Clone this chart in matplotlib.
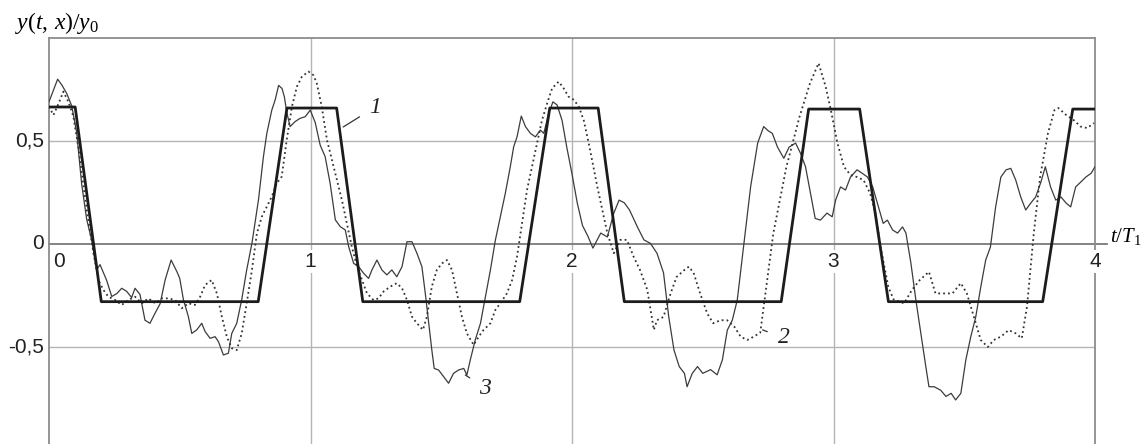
import matplotlib
matplotlib.use("Agg")
import matplotlib.pyplot as plt

# curve 1: thick trapezoid wave
t1 = [0, 0.10, 0.20, 0.80, 0.91, 1.10, 1.20, 1.80, 1.915, 2.10, 2.20, 2.80, 2.905,
      3.10, 3.21, 3.80, 3.915, 4.0]
y1 = [0.665, 0.665, -0.28, -0.28, 0.66, 0.66, -0.28, -0.28, 0.66, 0.66, -0.28, -0.28,
      0.655, 0.655, -0.28, -0.28, 0.655, 0.655]

# curve 2: dotted
t2 = [0, 0.017, 0.036, 0.055, 0.074, 0.093, 0.112, 0.131, 0.15, 0.17, 0.189, 0.208, 0.227,
      0.253, 0.278, 0.304, 0.329, 0.355, 0.38, 0.406, 0.431, 0.457, 0.482, 0.508, 0.533,
      0.558, 0.578, 0.597, 0.622, 0.642, 0.661, 0.68, 0.699, 0.718, 0.737, 0.756, 0.776,
      0.795, 0.814, 0.833, 0.852, 0.871, 0.89, 0.909, 0.929, 0.948, 0.967, 0.992, 1.011,
      1.024, 1.043, 1.063, 1.082, 1.101, 1.12, 1.139, 1.158, 1.178, 1.197, 1.216, 1.241,
      1.26, 1.28, 1.305, 1.33, 1.35, 1.369, 1.388, 1.407, 1.43, 1.445, 1.464, 1.483, 1.503,
      1.522, 1.541, 1.56, 1.579, 1.598, 1.624, 1.643, 1.662, 1.688, 1.707, 1.726, 1.751,
      1.771, 1.79, 1.809, 1.828, 1.847, 1.866, 1.885, 1.905, 1.924, 1.949, 1.968, 1.987,
      2.007, 2.026, 2.045, 2.064, 2.097, 2.135, 2.16, 2.185, 2.21, 2.236, 2.26, 2.288,
      2.313, 2.325, 2.35, 2.377, 2.40, 2.43, 2.447, 2.465, 2.49, 2.517, 2.54, 2.568, 2.593,
      2.62, 2.645, 2.67, 2.695, 2.72, 2.77, 2.82, 2.87, 2.91, 2.943, 2.97, 2.99, 3.015,
      3.04, 3.065, 3.09, 3.115, 3.14, 3.16, 3.18, 3.21, 3.23, 3.27, 3.30, 3.33, 3.365,
      3.39, 3.42, 3.455, 3.487, 3.51, 3.537, 3.563, 3.59, 3.613, 3.64, 3.67, 3.697, 3.72,
      3.74, 3.766, 3.79, 3.82, 3.845, 3.86, 3.89, 3.92, 3.945, 3.97, 3.996]
y2 = [0.667, 0.626, 0.68, 0.74, 0.69, 0.62, 0.47, 0.29, 0.117, -0.045, -0.175, -0.223, -0.256,
      -0.272, -0.296, -0.272, -0.256, -0.288, -0.264, -0.288, -0.264, -0.264, -0.272, -0.312,
      -0.288, -0.296, -0.256, -0.199, -0.175, -0.24, -0.353, -0.45, -0.506, -0.515, -0.434,
      -0.288, -0.126, 0.052, 0.133, 0.181, 0.23, 0.295, 0.327, 0.505, 0.667, 0.764, 0.812,
      0.837, 0.82, 0.78, 0.667, 0.505, 0.408, 0.31, 0.214, 0.10, -0.013, -0.11, -0.175,
      -0.24, -0.272, -0.264, -0.23, -0.207, -0.19, -0.215, -0.272, -0.353, -0.385, -0.417,
      -0.353, -0.207, -0.126, -0.094, -0.078, -0.126, -0.24, -0.353, -0.434, -0.49, -0.45,
      -0.417, -0.385, -0.32, -0.288, -0.24, -0.175, -0.06, 0.10, 0.262, 0.375, 0.489, 0.60,
      0.683, 0.756, 0.788, 0.756, 0.715, 0.70, 0.667, 0.60, 0.489, 0.277, 0.053, -0.045,
      0.02, 0.02, -0.063, -0.126, -0.223, -0.417, -0.37, -0.354, -0.24, -0.16, -0.126, -0.11,
      -0.14, -0.24, -0.337, -0.385, -0.37, -0.37, -0.40, -0.45, -0.466, -0.45, -0.43, 0.053,
      0.375, 0.617, 0.78, 0.878, 0.764, 0.65, 0.49, 0.375, 0.335, 0.325, 0.31, 0.246, 0.15,
      -0.015, -0.21, -0.27, -0.288, -0.223, -0.175, -0.135, -0.24, -0.24, -0.24, -0.19,
      -0.24, -0.354, -0.466, -0.50, -0.466, -0.45, -0.418, -0.434, -0.458, -0.304, 0.053,
      0.325, 0.537, 0.65, 0.66, 0.626, 0.60, 0.57, 0.563, 0.587]

# curve 3: thin noisy solid
t3 = [0, 0.033, 0.05, 0.068, 0.087, 0.106, 0.125, 0.144, 0.163, 0.176, 0.185, 0.195, 0.22,
      0.24, 0.26, 0.278, 0.297, 0.316, 0.329, 0.348, 0.367, 0.386, 0.406, 0.425, 0.444,
      0.467, 0.489, 0.5, 0.514, 0.533, 0.546, 0.565, 0.584, 0.597, 0.616, 0.635, 0.648,
      0.667, 0.686, 0.699, 0.718, 0.737, 0.756, 0.776, 0.801, 0.82, 0.833, 0.852, 0.865,
      0.878, 0.891, 0.90, 0.909, 0.922, 0.941, 0.96, 0.98, 0.999, 1.018, 1.037, 1.056,
      1.075, 1.095, 1.114, 1.133, 1.146, 1.165, 1.184, 1.203, 1.222, 1.235, 1.254, 1.273,
      1.292, 1.311, 1.33, 1.35, 1.369, 1.388, 1.407, 1.426, 1.439, 1.452, 1.464, 1.473,
      1.49, 1.509, 1.528, 1.547, 1.566, 1.586, 1.598, 1.611, 1.63, 1.65, 1.669, 1.688,
      1.707, 1.726, 1.745, 1.764, 1.777, 1.79, 1.806, 1.822, 1.841, 1.86, 1.879, 1.892,
      1.911, 1.927, 1.943, 1.962, 1.98, 2.0, 2.02, 2.04, 2.06, 2.08, 2.11, 2.135, 2.16,
      2.18, 2.2, 2.22, 2.25, 2.275, 2.30, 2.325, 2.35, 2.37, 2.39, 2.41, 2.43, 2.44, 2.46,
      2.48, 2.50, 2.53, 2.555, 2.575, 2.594, 2.613, 2.632, 2.656, 2.683, 2.71, 2.733, 2.75,
      2.766, 2.786, 2.81, 2.83, 2.855, 2.874, 2.893, 2.912, 2.93, 2.95, 2.975, 2.995, 3.008,
      3.027, 3.046, 3.065, 3.09, 3.11, 3.13, 3.15, 3.168, 3.19, 3.206, 3.226, 3.245, 3.264,
      3.277, 3.296, 3.315, 3.334, 3.353, 3.365, 3.385, 3.41, 3.43, 3.45, 3.467, 3.487,
      3.506, 3.525, 3.544, 3.563, 3.582, 3.60, 3.62, 3.64, 3.66, 3.678, 3.697, 3.716, 3.735,
      3.754, 3.773, 3.793, 3.81, 3.83, 3.85, 3.87, 3.89, 3.907, 3.926, 3.945, 3.965, 3.985,
      4.0]
y3 = [0.69, 0.80, 0.77, 0.73, 0.67, 0.54, 0.29, 0.12, 0.02, -0.08, -0.12, -0.10, -0.175,
      -0.255, -0.24, -0.215, -0.23, -0.26, -0.215, -0.245, -0.37, -0.385, -0.335, -0.29,
      -0.175, -0.078, -0.134, -0.167, -0.27, -0.353, -0.434, -0.417, -0.385, -0.425, -0.458,
      -0.45, -0.474, -0.539, -0.53, -0.434, -0.385, -0.27, -0.126, 0.003, 0.214, 0.424,
      0.537, 0.65, 0.70, 0.77, 0.755, 0.715, 0.64, 0.57, 0.594, 0.61, 0.618, 0.65, 0.59,
      0.48, 0.424, 0.295, 0.117, 0.084, 0.068, -0.013, -0.094, -0.11, -0.142, -0.167,
      -0.126, -0.078, -0.126, -0.15, -0.126, -0.159, -0.11, 0.011, 0.011, -0.045, -0.11,
      -0.24, -0.385, -0.515, -0.604, -0.612, -0.644, -0.676, -0.628, -0.612, -0.604, -0.636,
      -0.563, -0.466, -0.385, -0.256, -0.126, 0.019, 0.133, 0.246, 0.375, 0.472, 0.521,
      0.621, 0.57, 0.537, 0.52, 0.553, 0.537, 0.634, 0.69, 0.675, 0.60, 0.47, 0.34, 0.20,
      0.09, 0.04, -0.02, 0.053, 0.034, 0.15, 0.213, 0.2, 0.165, 0.083, 0.02, 0.003, -0.045,
      -0.14, -0.354, -0.515, -0.595, -0.628, -0.693, -0.628, -0.595, -0.628, -0.61, -0.635,
      -0.563, -0.418, -0.37, -0.272, -0.015, 0.277, 0.49, 0.57, 0.55, 0.537, 0.47, 0.416,
      0.47, 0.49, 0.44, 0.375, 0.246, 0.124, 0.116, 0.15, 0.132, 0.213, 0.277, 0.262, 0.325,
      0.36, 0.343, 0.325, 0.277, 0.198, 0.1, 0.116, 0.068, 0.053, 0.083, 0.053, -0.093,
      -0.272, -0.434, -0.595, -0.693, -0.693, -0.71, -0.74, -0.725, -0.757, -0.725, -0.563,
      -0.45, -0.354, -0.21, -0.078, -0.015, 0.18, 0.325, 0.36, 0.367, 0.31, 0.228, 0.165,
      0.198, 0.228, 0.30, 0.375, 0.277, 0.213, 0.228, 0.198, 0.18, 0.277, 0.30, 0.325,
      0.343, 0.375]

x_ticks = [0, 1, 2, 3, 4]
y_ticks = [0.5, 0, -0.5]
y_tick_labels = ["0,5", "0", "-0,5"]

plt.rcParams["mathtext.fontset"] = "custom"
plt.rcParams["mathtext.rm"] = "Liberation Serif"
plt.rcParams["mathtext.it"] = "Liberation Serif:italic"

W, H = 1143, 444
fig = plt.figure(figsize=(W / 100, H / 100), dpi=100)
ax = fig.add_axes([49 / W, 0, (1095 - 49) / W, (H - 38) / H])
ax.set_xlim(0, 4)
ax.set_ylim(-0.971, 1.0)

grid_c = "#b4b4b4"
for s in ["left", "top", "right"]:
    ax.spines[s].set_color("#8c8c8c")
    ax.spines[s].set_linewidth(1.3)
ax.spines["bottom"].set_visible(False)
ax.set_xticks([])
ax.set_yticks([])

for xv in x_ticks[1:-1]:
    ax.axvline(xv, color=grid_c, lw=1.0, zorder=0)
for yv in y_ticks:
    if yv != 0:
        ax.axhline(yv, color=grid_c, lw=1.0, zorder=0)
# zero axis extends a bit past the frame
ax.plot([0, 4.045], [0, 0], color="#7a7a7a", lw=1.3, zorder=1, clip_on=False)

ax.plot(t3, y3, color="#3c3c3c", lw=0.9, zorder=3)
ax.plot(t2, y2, color="#333333", lw=1.3, ls=(0, (1, 1.7)), zorder=3)
ax.plot(t1, y1, color="#1c1c1c", lw=2.0, zorder=4, solid_joinstyle="round")

tick_font = dict(family="Liberation Sans", fontsize=15, color="#222222")
for xv in x_ticks:
    dx = 0.04 if xv == 0 else 0.0
    ax.text(xv + dx, -0.085, str(xv), ha="center", va="center", zorder=5,
            bbox=dict(boxstyle="square,pad=0.1", fc="white", ec="none"), **tick_font)
for yv, lab in zip(y_ticks, y_tick_labels):
    ax.text(-0.02, yv, lab, ha="right", va="center", **tick_font)

ax.text(-0.13, 1.075, r"$y(t,\,x)/y_\mathrm{0}$", fontsize=17, ha="left", va="center",
        clip_on=False)
ax.text(4.058, 0.01, r"$t/T_\mathrm{1}$", fontsize=15, ha="left", va="baseline",
        clip_on=False)

lab_font = dict(family="Liberation Serif", style="italic", fontsize=17, color="#222222")
leader = dict(arrowstyle="-", color="#333333", lw=0.9, shrinkA=6, shrinkB=0)
ax.annotate("1", xy=(1.125, 0.568), xytext=(1.248, 0.665), ha="center", va="center",
            arrowprops=leader, **lab_font)
ax.annotate("3", xy=(1.592, -0.636), xytext=(1.669, -0.70), ha="center", va="center",
            arrowprops=leader, **lab_font)
ax.annotate("2", xy=(2.729, -0.417), xytext=(2.81, -0.456), ha="center", va="center",
            arrowprops=leader, **lab_font)

fig.savefig("out.png", dpi=100)
